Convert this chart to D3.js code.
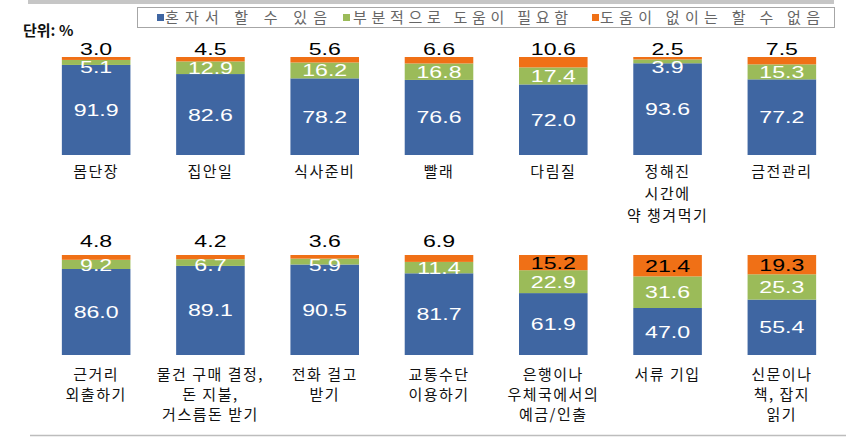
<!DOCTYPE html>
<html>
<head>
<meta charset="utf-8">
<script src="https://cdn.jsdelivr.net/npm/d3@7"></script>
<style>
  body { margin: 0; background: #fff; }
  text { font-family: "Liberation Sans", Arial, sans-serif; }
  .kr { font-family: "Noto Sans CJK KR", "Noto Sans", sans-serif; }
</style>
</head>
<body>
<div id="chart"></div>
<script>
// 범례 / 계열
const seriesNames = ["혼자서 할 수 있음", "부분적으로 도움이 필요함", "도움이 없이는 할 수 없음"];
const seriesKeys = ["alone", "partial", "none"];
const colors = ["#3F66A2", "#9BBB59", "#F07016"];

// 윗줄
const cats1 = [["몸단장"], ["집안일"], ["식사준비"], ["빨래"], ["다림질"], ["정해진", "시간에", "약 챙겨먹기"], ["금전관리"]];
const alone1 = [91.9, 82.6, 78.2, 76.6, 72.0, 93.6, 77.2];
const partial1 = [5.1, 12.9, 16.2, 16.8, 17.4, 3.9, 15.3];
const none1 = [3.0, 4.5, 5.6, 6.6, 10.6, 2.5, 7.5];

// 아랫줄
const cats2 = [["근거리", "외출하기"], ["물건 구매 결정,", "돈 지불,", "거스름돈 받기"], ["전화 걸고", "받기"], ["교통수단", "이용하기"], ["은행이나", "우체국에서의", "예금/인출"], ["서류 기입"], ["신문이나", "책, 잡지", "읽기"]];
const alone2 = [86.0, 89.1, 90.5, 81.7, 61.9, 47.0, 55.4];
const partial2 = [9.2, 6.7, 5.9, 11.4, 22.9, 31.6, 25.3];
const none2 = [4.8, 4.2, 3.6, 6.9, 15.2, 21.4, 19.3];

const W = 846, H = 448;
const svg = d3.select("#chart").append("svg").attr("width", W).attr("height", H);

// 위 회색 선, 아래 회색 선
svg.append("rect").attr("x", 28).attr("y", 0).attr("width", 806).attr("height", 4).attr("fill", "#c6c6c6");
svg.append("line").attr("x1", 30).attr("x2", 846).attr("y1", 435.5).attr("y2", 435.5)
  .attr("stroke", "#bdbdbd").attr("stroke-width", 1.5);

// 범례
svg.append("rect").attr("x", 137.5).attr("y", 7.5).attr("width", 697).attr("height", 20)
  .attr("fill", "#fff").attr("stroke", "#a6a6a6");
const legendPos = [[157, 165, 162], [343, 353, 215], [592, 600, 220]];
seriesNames.forEach((name, i) => {
  const [sx, tx, tl] = legendPos[i];
  svg.append("rect").attr("x", sx).attr("y", 14).attr("width", 7).attr("height", 7).attr("fill", colors[i]);
  svg.append("text").attr("class", "kr").attr("x", tx).attr("y", 23)
    .attr("font-size", 15).attr("fill", "#666")
    .attr("textLength", tl).attr("lengthAdjust", "spacing")
    .text(name);
});

svg.append("text").attr("class", "kr").attr("x", 23).attr("y", 36)
  .attr("font-size", 15).attr("font-weight", "bold").attr("fill", "#111").text("단위: %");

const x = d3.scaleBand().domain(d3.range(7)).range([39, 839]).paddingInner(0.4).paddingOuter(0.2);

function stretchText(g, px, py, str, size, fill) {
  g.append("text")
    .attr("transform", `translate(${px},${py}) scale(1.36,1)`)
    .attr("text-anchor", "middle")
    .attr("font-size", size)
    .attr("fill", fill)
    .text(str);
}

function drawRow(cats, alone, partial, none, yBottom, yTop, totalBase, catBase, lineH) {
  const y = d3.scaleLinear().domain([0, 100]).range([yBottom, yTop]);
  const rows = cats.map((c, i) => ({ i, alone: alone[i], partial: partial[i], none: none[i] }));
  const stacked = d3.stack().keys(seriesKeys)(rows);
  const g = svg.append("g");

  stacked.forEach((layer, k) => {
    g.selectAll(null).data(layer).enter().append("rect")
      .attr("x", d => x(d.data.i))
      .attr("width", x.bandwidth())
      .attr("y", d => y(d[1]))
      .attr("height", d => y(d[0]) - y(d[1]))
      .attr("fill", colors[k]);
  });

  rows.forEach((r, i) => {
    const cx = x(i) + x.bandwidth() / 2;
    // 혼자서
    const b = stacked[0][i];
    stretchText(g, cx, (y(b[0]) + y(b[1])) / 2 + 6, r.alone.toFixed(1), 17, "#fff");
    // 부분적
    const p = stacked[1][i];
    const pc = Math.max((y(p[0]) + y(p[1])) / 2, y(100) + 10);
    stretchText(g, cx, pc + 6, r.partial.toFixed(1), 17, "#fff");
    // 도움 없이는
    const n = stacked[2][i];
    if (r.none > 12) {
      stretchText(g, cx, (y(n[0]) + y(n[1])) / 2 + 6, r.none.toFixed(1), 17, "#000");
    } else {
      stretchText(g, cx, totalBase, r.none.toFixed(1), 17, "#000");
    }
    // 항목명
    const t = g.append("text").attr("class", "kr").attr("text-anchor", "middle")
      .attr("font-size", 15).attr("fill", "#111").attr("letter-spacing", 1.5);
    cats[i].forEach((line, j) => {
      t.append("tspan").attr("x", cx).attr("y", catBase + j * lineH).text(line);
    });
  });
}

drawRow(cats1, alone1, partial1, none1, 155, 57, 55, 177, 22);
drawRow(cats2, alone2, partial2, none2, 355, 255, 247, 380, 20);
</script>
</body>
</html>
